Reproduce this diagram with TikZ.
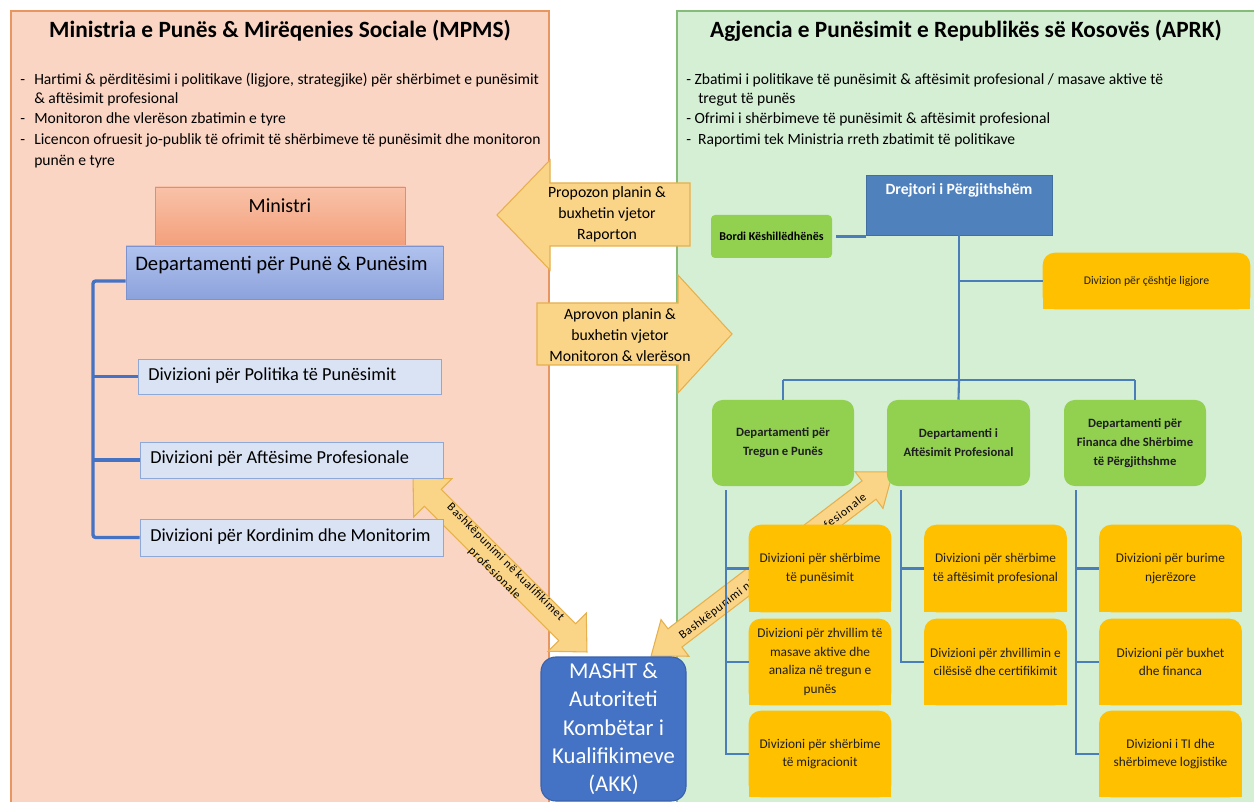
\documentclass[tikz,border=0pt]{standalone}
\usepackage{fontspec}
\setmainfont{Carlito}
\usetikzlibrary{calc}
\pgfdeclarelayer{panels}
\pgfdeclarelayer{arrowlayer}
\pgfdeclarelayer{boxbg}
\pgfsetlayers{panels,arrowlayer,boxbg,main}
\definecolor{peach}{HTML}{FAD5C3}
\definecolor{peachb}{HTML}{E9955F}
\definecolor{mint}{HTML}{D5EFD5}
\definecolor{mintb}{HTML}{86BC7A}
\definecolor{arrf}{HTML}{FAD588}
\definecolor{arrb}{HTML}{E6B04C}
\definecolor{minT}{HTML}{F9C2A8}
\definecolor{minB}{HTML}{F3A07C}
\definecolor{minD}{HTML}{EC8D55}
\definecolor{depT}{HTML}{B0C2EE}
\definecolor{depB}{HTML}{8CA2DB}
\definecolor{depD}{HTML}{7C93CF}
\definecolor{ldivf}{HTML}{DAE3F3}
\definecolor{ldivb}{HTML}{8EA8D8}
\definecolor{lline}{HTML}{4472C4}
\definecolor{rline}{HTML}{4A7EBB}
\definecolor{drejc}{HTML}{4F81BD}
\definecolor{grn}{HTML}{92D050}
\definecolor{yel}{HTML}{FFC000}
\definecolor{mash}{HTML}{4472C4}
\definecolor{mashb}{HTML}{3A62AB}
\def\pxu{0.75pt}
\begin{document}
\begin{tikzpicture}[x=0.75pt,y=-0.75pt,
  tx/.style={inner sep=0pt, text height=1.5ex, text depth=.25ex},
  ttl/.style={tx, font=\bfseries\fontsize{17.5}{21}\selectfont},
  bul/.style={tx, anchor=west, font=\fontsize{11.7}{14}\selectfont},
  blockarrow/.style={fill=arrf, draw=arrb, line width=0.8pt, line join=miter},
  diagtxt/.style={inner sep=0pt, align=center, font=\fontsize{9}{12}\selectfont\addfontfeature{LetterSpace=6}},
  mtxt/.style={inner sep=0pt, align=center, font=\fontsize{11.8}{15.75}\selectfont},
  minbox/.style={draw=minD, line width=0.6pt, top color=minT, bottom color=minB, minimum width=250*\pxu, minimum height=58*\pxu, inner sep=0pt},
  depbox/.style={draw=depD, line width=0.6pt, top color=depT, bottom color=depB, minimum width=317*\pxu, minimum height=53*\pxu, inner sep=0pt},
  ldiv/.style={draw=ldivb, fill=ldivf, line width=0.6pt, inner sep=0pt, minimum width=303*\pxu},
  ldivt/.style={tx, anchor=west, font=\fontsize{13.75}{16}\selectfont},
  lbr/.style={draw=lline, line width=2.5pt, rounded corners=2pt},
  rl/.style={draw=rline, line width=1.6pt},
  drbox/.style={fill=drejc, draw=drejc!85!black, line width=0.4pt, minimum width=186*\pxu, minimum height=60*\pxu, inner sep=0pt},
  bordbox/.style={fill=grn, rounded corners=3pt, minimum width=121*\pxu, minimum height=43*\pxu, inner sep=0pt, font=\bfseries\fontsize{9}{11}\selectfont},
  dept/.style={fill=grn, rounded corners=8pt, minimum width=142*\pxu, minimum height=86*\pxu, inner sep=0pt, align=center, text=black!88, font=\bfseries\fontsize{9.5}{14.25}\selectfont},
  yb/.style={minimum width=142*\pxu, minimum height=87*\pxu, inner sep=0pt, align=center, text=black!88, font=\fontsize{10}{13.9}\selectfont},
  mbox/.style={fill=mash, draw=mashb, line width=0.8pt, rounded corners=11pt, minimum width=145*\pxu, minimum height=144*\pxu, inner sep=0pt, align=center, text=white, font=\fontsize{17}{21.2}\selectfont}
]
\useasboundingbox (0,0) rectangle (1254,802);

% ---------- panels ----------
\begin{pgfonlayer}{panels}
\fill[white] (0,0) rectangle (1254,802);
\fill[peach] (11,11) rectangle (549,802);
\draw[peachb, line width=0.8pt] (11,802) -- (11,11) -- (549,11) -- (549,802);
\fill[mint] (677,11) rectangle (1254,802);
\draw[mintb, line width=0.8pt] (677,802) -- (677,11) -- (1254,11);
\end{pgfonlayer}

% ---------- block arrows ----------
\begin{pgfonlayer}{arrowlayer}
\path[blockarrow] (497,215) -- (550,160) -- (550,183) -- (690,183) -- (690,246) -- (550,246) -- (550,270) -- cycle;
\path[blockarrow] (537,303) -- (678,303) -- (678,275) -- (732,334) -- (678,393) -- (678,365) -- (537,365) -- cycle;
\begin{scope}[shift={(500,565)}, rotate=-45]
\path[blockarrow] (-123,0) -- (-95,27) -- (-95,12) -- (95,12) -- (95,27) -- (123,0) -- (95,-27) -- (95,-12) -- (-95,-12) -- (-95,-27) -- cycle;
\end{scope}
\begin{scope}[shift={(772,564)}, rotate=37.3]
\path[blockarrow] (-152,0) -- (-122,23) -- (-122,11.5) -- (122,11.5) -- (122,23) -- (152,0) -- (122,-23) -- (122,-11.5) -- (-122,-11.5) -- (-122,-23) -- cycle;
\end{scope}
\node[diagtxt, rotate=-45] (dlT) at (500,568) {Bashkëpunimi në kualifikimet\\profesionale};
\node[diagtxt, rotate=37.3] (drT) at (773,567) {Bashkëpunimi në kualifikimet profesionale};
\end{pgfonlayer}

% ---------- titles and bullets ----------
\node[ttl] (mpmsT) at (280,33.5) {Ministria e Punës \& Mirëqenies Sociale (MPMS)};
\node[ttl] (aprkT) at (966,33.5) {Agjencia e Punësimit e Republikës së Kosovës (APRK)};

\node[bul] (lb1) at (20,80.5) {\makebox[10.5pt][l]{-}Hartimi \& përditësimi i politikave (ligjore, strategjike) për shërbimet e punësimit};
\node[bul] (lb2) at (34,99.5) {\& aftësimit profesional};
\node[bul] (lb3) at (20,119.5) {\makebox[10.5pt][l]{-}Monitoron dhe vlerëson zbatimin e tyre};
\node[bul] (lb4) at (20,140.5) {\makebox[10.5pt][l]{-}Licencon ofruesit jo-publik të ofrimit të shërbimeve të punësimit dhe monitoron};
\node[bul] (lb5) at (34,161.5) {punën e tyre};

\node[bul] (rb1) at (686,80.5) {- Zbatimi i politikave të punësimit \& aftësimit profesional / masave aktive të};
\node[bul] (rb2) at (698,100) {tregut të punës};
\node[bul] (rb3) at (686,120) {- Ofrimi i shërbimeve të punësimit \& aftësimit profesional};
\node[bul] (rb4) at (686,141) {-\ \ Raportimi tek Ministria rreth zbatimit të politikave};

% ---------- left organisation ----------
\node[minbox] (min) at (280,216) {};
\node[tx, font=\fontsize{15}{18}\selectfont] (minT) at (280,209) {Ministri};
\node[depbox] (dep) at (284.5,272.5) {};
\node[tx, anchor=west, font=\fontsize{15.5}{18}\selectfont] (depT) at (135,267) {Departamenti për Punë \& Punësim};
\node[ldiv, minimum height=35*\pxu] (pol) at (289.5,376.5) {};
\node[ldivt] (polT) at (148,376.5) {Divizioni për Politika të Punësimit};
\node[ldiv, minimum height=36*\pxu] (afs) at (291.5,460) {};
\node[ldivt] (afsT) at (150,460) {Divizioni për Aftësime Profesionale};
\node[ldiv, minimum height=37*\pxu] (kor) at (291.5,537.5) {};
\node[ldivt] (korT) at (150,537.5) {Divizioni për Kordinim dhe Monitorim};
\coordinate (lbk) at (93,281);
\draw[lbr] (dep.west |- lbk) -- (lbk) |- (kor.west);
\draw[lbr] (lbk |- pol.west) -- (pol.west);
\draw[lbr] (lbk |- afs.west) -- (afs.west);

% ---------- middle arrow texts ----------
\node[mtxt] (propT) at (607,214) {Propozon planin \&\\buxhetin vjetor\\Raporton};
\node[mtxt] (aprT) at (620,335) {Aprovon planin \&\\buxhetin vjetor\\Monitoron \& vlerëson};

% ---------- right organisation ----------
\node[drbox] (drej) at (959,205) {};
\node[tx, text=white, font=\bfseries\fontsize{11.75}{14}\selectfont] (drejT) at (959,191) {Drejtori i Përgjithshëm};
\node[bordbox] (bord) at (771.5,236.5) {Bordi Këshillëdhënës};
\draw[rl] ([xshift=3pt]bord.east) -- (bord.east -| drej.west);
\node[yb, minimum width=207*\pxu, minimum height=56*\pxu, font=\fontsize{8.8}{11}\selectfont] (lig) at (1146.5,281) {Divizion për çështje ligjore};
\coordinate (bar) at (959,380);
\draw[rl] (drej.south) -- (bar);
\draw[rl] (drej.south |- lig.west) -- (lig.west);

\node[dept] (treg) at (783,443) {Departamenti për\\Tregun e Punës};
\node[dept, minimum width=143*\pxu] (aftd) at (958.5,443) {Departamenti i\\Aftësimit Profesional};
\node[dept] (fin) at (1135,443) {Departamenti për\\Financa dhe Shërbime\\të Përgjithshme};
\draw[rl] (treg.north |- bar) -- (fin.north |- bar);
\draw[rl] (treg.north |- bar) -- (treg.north);
\draw[rl] (bar) -- (aftd.north);
\draw[rl] (fin.north |- bar) -- (fin.north);

\node[yb] (c1r1) at (820,568.5) {Divizioni për shërbime\\të punësimit};
\node[yb, minimum height=86*\pxu] (c1r2) at (820,662) {Divizioni për zhvillim të\\masave aktive dhe\\analiza në tregun e\\punës};
\node[yb, minimum height=86*\pxu] (c1r3) at (820,754) {Divizioni për shërbime\\të migracionit};
\node[yb] (c2r1) at (995.5,568.5) {Divizioni për shërbime\\të aftësimit profesional};
\node[yb, minimum height=86*\pxu] (c2r2) at (995.5,662) {Divizioni për zhvillimin e\\cilësisë dhe certifikimit};
\node[yb] (c3r1) at (1170.5,568.5) {Divizioni për burime\\njerëzore};
\node[yb, minimum height=86*\pxu] (c3r2) at (1170.5,662) {Divizioni për buxhet\\dhe financa};
\node[yb, minimum height=86*\pxu] (c3r3) at (1170.5,754) {Divizioni i TI dhe\\shërbimeve logjistike};

\coordinate (k1) at ([xshift=10.5pt,yshift=-3pt]treg.south west);
\coordinate (k2) at ([xshift=10.5pt,yshift=-3pt]aftd.south west);
\coordinate (k3) at ([xshift=9pt,yshift=-3pt]fin.south west);
\draw[rl] (k1) |- (c1r3.west);
\draw[rl] (k1 |- c1r1.west) -- (c1r1.west);
\draw[rl] (k1 |- c1r2.west) -- (c1r2.west);
\draw[rl] (k2) |- (c2r2.west);
\draw[rl] (k2 |- c2r1.west) -- (c2r1.west);
\draw[rl] (k3) |- (c3r3.west);
\draw[rl] (k3 |- c3r1.west) -- (c3r1.west);
\draw[rl] (k3 |- c3r2.west) -- (c3r2.west);

\begin{pgfonlayer}{boxbg}
\foreach \n in {lig,c1r1,c1r2,c1r3,c2r1,c2r2,c3r1,c3r2,c3r3}{
  \fill[yel, rounded corners=9pt] (\n.south west) rectangle (\n.north east);
  \fill[yel] (\n.south west) rectangle (\n.east);
}
\end{pgfonlayer}

% ---------- MASHT ----------
\node[mbox] (masht) at (613.5,729) {MASHT \&\\Autoriteti\\Kombëtar i\\Kualifikimeve\\(AKK)};
\end{tikzpicture}
\end{document}
